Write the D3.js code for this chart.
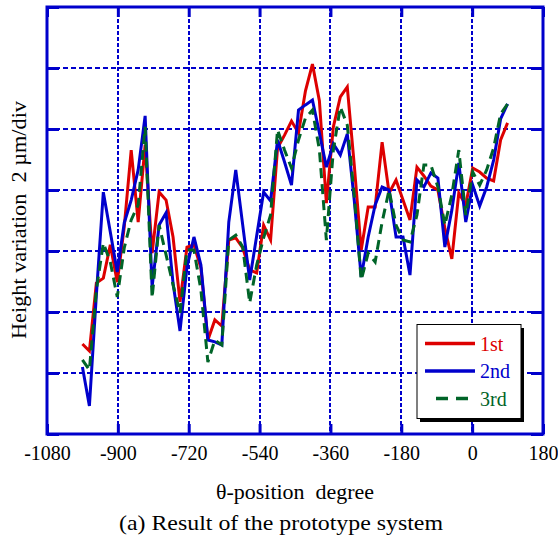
<!DOCTYPE html>
<html><head><meta charset="utf-8">
<script src="https://cdn.jsdelivr.net/npm/d3@7"></script>
<style>body{margin:0;background:#fff}svg{display:block}text{white-space:pre}</style>
</head><body>
<svg id="c" width="558" height="537"></svg>
<script>
// ---- data ----
const theta = [-990.0,-972.3,-954.6,-936.9,-919.2,-901.5,-883.8,-866.1,-848.4,-830.7,
  -813.0,-795.2,-777.5,-759.8,-742.1,-724.4,-706.7,-689.0,-671.3,-653.6,
  -635.9,-618.2,-600.5,-582.8,-565.1,-547.4,-529.7,-512.0,-494.3,-476.6,
  -458.9,-441.1,-423.4,-405.7,-388.0,-370.3,-352.6,-334.9,-317.2,-299.5,
  -281.8,-264.1,-246.4,-228.7,-211.0,-193.3,-175.6,-157.9,-140.2,-122.5,
  -104.8,-87.0,-69.3,-51.6,-33.9,-16.2,1.5,19.2,36.9,54.6,72.3,90.0];
const first = [2.95,2.72,4.95,5.11,6.20,4.98,6.79,9.31,6.95,9.48,
  5.93,7.93,7.67,6.46,4.33,6.13,6.20,5.44,3.08,3.74,
  3.54,6.36,6.43,6.10,5.38,5.28,6.85,6.36,9.38,9.80,
  10.26,9.87,11.25,12.13,10.92,7.57,10.07,11.05,11.38,8.82,
  6.03,7.44,7.44,9.57,7.90,8.33,7.67,7.02,8.75,8.46,
  8.13,8.00,6.75,5.74,7.90,7.51,8.72,8.59,8.39,8.30,9.64,10.20];
const second = [2.20,0.92,4.56,7.93,6.62,5.31,6.92,7.67,8.66,10.43,
  4.82,6.85,7.25,4.95,3.38,5.48,6.46,5.54,3.08,3.02,
  2.92,6.95,8.66,6.85,5.05,6.49,7.93,7.64,9.64,8.92,
  8.16,10.62,10.79,10.95,9.87,8.75,9.51,9.15,9.84,7.67,
  5.15,6.46,7.51,8.10,8.00,6.46,6.46,5.21,8.33,8.10,
  8.56,8.39,6.13,7.34,8.89,6.95,8.16,7.48,8.10,8.98,10.33,10.82];
const third = [2.43,2.10,4.72,6.26,5.64,4.49,6.10,7.02,7.51,10.07,
  4.46,6.85,5.87,4.89,3.97,6.03,6.03,4.72,2.36,3.08,
  2.92,6.36,6.52,6.13,4.30,5.54,6.43,7.18,9.97,9.31,
  8.72,9.64,10.36,10.62,9.31,6.36,9.31,10.72,10.13,7.84,
  5.05,5.93,5.64,6.95,8.00,6.85,6.36,6.30,7.18,8.82,
  8.82,8.10,6.85,7.84,9.31,7.18,8.59,8.16,8.66,9.38,10.49,10.82];
const xTicks = [-1080,-900,-720,-540,-360,-180,0,180];
const yTicks = [0,2,4,6,8,10,12,14];
const seriesNames = ["1st","2nd","3rd"];
const seriesColors = ["#dd0000","#0000cc","#006428"];

// ---- drawing ----
const svg = d3.select("#c");
const L = 47, R = 543, T = 7, B = 434;
const x = d3.scaleLinear().domain([-1080,180]).range([L,R]);
const y = d3.scaleLinear().domain([0,14]).range([B,T]);
const axisCol = "#0000cc";
const font = "'Liberation Serif','Times New Roman',serif";

// grid
const g = svg.append("g").attr("shape-rendering","crispEdges");
g.selectAll("line.vg").data(xTicks.slice(1,-1)).join("line")
  .attr("x1",d=>Math.round(x(d))).attr("x2",d=>Math.round(x(d))).attr("y1",T).attr("y2",B)
  .attr("stroke",axisCol).attr("stroke-width",2).attr("stroke-dasharray","4,2");
g.selectAll("line.hg").data(yTicks.slice(1,-1)).join("line")
  .attr("x1",L).attr("x2",R).attr("y1",d=>Math.round(y(d))).attr("y2",d=>Math.round(y(d)))
  .attr("stroke",axisCol).attr("stroke-width",2).attr("stroke-dasharray","5,3");

// series
const sets = [first, second, third];
const line = d3.line().x((d,i)=>x(theta[i])).y(d=>y(d));
sets.forEach((s,k)=>{
  svg.append("path").datum(s).attr("d",line).attr("fill","none")
    .attr("stroke",seriesColors[k]).attr("stroke-width",3)
    .attr("stroke-linejoin","miter")
    .attr("stroke-dasharray", k===2 ? "10,6" : null);
});

// axes with inward ticks
function styleAxis(sel){
  sel.select(".domain").remove();
  sel.selectAll(".tick line").attr("stroke",axisCol).attr("stroke-width",3);
}
svg.append("g").attr("transform",`translate(0,${B})`)
  .call(d3.axisBottom(x).tickValues(xTicks).tickSize(-10).tickPadding(12).tickFormat(d=>String(d)))
  .call(styleAxis)
  .selectAll("text").attr("font-family",font).attr("font-size",20).attr("fill","#000");
svg.append("g").attr("transform",`translate(0,${T})`)
  .call(d3.axisTop(x).tickValues(xTicks).tickSize(-10).tickFormat(""))
  .call(styleAxis);
svg.append("g").attr("transform",`translate(${L},0)`)
  .call(d3.axisLeft(y).tickValues(yTicks).tickSize(-12).tickFormat(""))
  .call(styleAxis);
svg.append("g").attr("transform",`translate(${R},0)`)
  .call(d3.axisRight(y).tickValues(yTicks).tickSize(-12).tickFormat(""))
  .call(styleAxis);

// frame
svg.append("rect").attr("x",L).attr("y",T).attr("width",R-L).attr("height",B-T)
  .attr("fill","none").attr("stroke",axisCol).attr("stroke-width",3);

// axis titles
svg.append("text").attr("x",295).attr("y",499).attr("text-anchor","middle")
  .attr("font-family",font).attr("font-size",21)
  .attr("textLength",158).attr("lengthAdjust","spacingAndGlyphs").text("θ-position  degree");
svg.append("text").attr("x",281).attr("y",530).attr("text-anchor","middle")
  .attr("font-family",font).attr("font-size",22)
  .attr("textLength",324).attr("lengthAdjust","spacingAndGlyphs").text("(a) Result of the prototype system");
svg.append("text").attr("transform","translate(26,220) rotate(-90)").attr("text-anchor","middle")
  .attr("font-family",font).attr("font-size",20)
  .attr("textLength",238).attr("lengthAdjust","spacingAndGlyphs").text("Height variation  2 µm/div");

// legend
const lg = svg.append("g");
lg.append("rect").attr("x",420).attr("y",328).attr("width",104).attr("height",94).attr("fill","#000");
lg.append("rect").attr("x",417).attr("y",324.5).attr("width",104).attr("height",94)
  .attr("fill","#fff").attr("stroke","#000").attr("stroke-width",1);
seriesNames.forEach((n,k)=>{
  const yy = 343.5 + k*27.5;
  lg.append("line").attr("x1", k===2?436:425).attr("x2",k===2?472:475).attr("y1",yy).attr("y2",yy)
    .attr("stroke",seriesColors[k]).attr("stroke-width",3.5)
    .attr("stroke-dasharray", k===2 ? "12,8" : null);
  lg.append("text").attr("x",480).attr("y",yy+7).attr("font-family",font).attr("font-size",20)
    .attr("fill",seriesColors[k]).text(n);
});
</script>
</body></html>
